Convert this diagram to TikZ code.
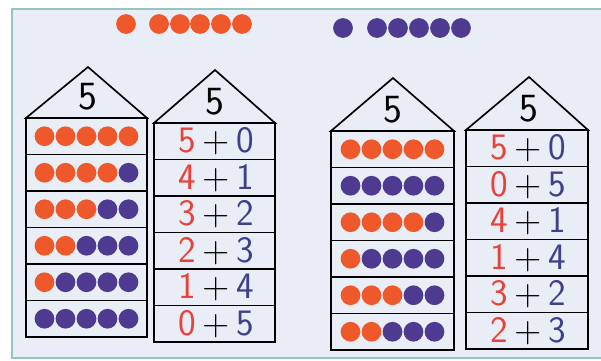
\documentclass[tikz,border=0pt]{standalone}
\usepackage{fontspec}
\usepackage{tikz}
\definecolor{dotorange}{RGB}{238,88,42}
\definecolor{dotpurple}{RGB}{78,58,145}
\definecolor{penred}{RGB}{232,66,58}
\definecolor{penblue}{RGB}{62,64,140}
\definecolor{sheet}{RGB}{233,237,245}
\definecolor{frameline}{RGB}{150,196,190}
\tikzset{
  houseline/.style={black,line width=1.25pt,line join=miter},
  rooftext/.style={font=\sffamily\fontsize{30}{30}\selectfont,inner sep=0pt},
  sumtext/.style={font=\sffamily\fontsize{28}{28}\selectfont,inner sep=0pt},
}
\newcommand{\sumrow}[2]{{\color{penred}#1}\hspace{5pt}{\color{black}+}\hspace{5pt}{\color{penblue}#2}}

\begin{document}
\begin{tikzpicture}[x=0.75pt,y=-0.75pt]
  \useasboundingbox (0,0) rectangle (601,361);
  % sheet and its frame
  \fill[white] (0,0) rectangle (601,361);
  \fill[sheet] (12,9) rectangle (612,358);
  \draw[frameline,line width=1pt] (12,9) rectangle (612,358);
  % counters at the top
  \foreach \x in {126,159,180,200,221,242}
    \fill[dotorange] (\x,24) circle (7.4pt);
  \foreach \x in {343,377,398,419,440,461}
    \fill[dotpurple] (\x,28) circle (7.4pt);
  % four houses: left, roof base, width, apex
  \foreach \L/\T/\W/\Ax/\Ay/\nm in {26/118/121/88/67/hA, 154/123/121/215/70/hB,
                                   331/131/123/393/78/hC, 466/130/122/529/77/hD} {
    \draw[houseline] (\L,\T) -- (\Ax,\Ay) -- (\L+\W,\T) -- cycle;
    \node[rooftext] (\nm-roof) at (\Ax,\T-21) {5};
    \foreach \k in {0,...,5}
      \draw[houseline] (\L,\T+\k*36.5) rectangle (\L+\W,\T+\k*36.5+36.5);
  }
  % house A: dots, orange count per row
  \foreach \k/\n in {0/5,1/4,2/3,3/2,4/1,5/0}
    \foreach \j in {1,...,5} {
      \ifnum\j>\n \def\dc{dotpurple}\else\def\dc{dotorange}\fi
      \fill[\dc] (86.5+\j*21-63,118+\k*36.5+18.25) circle (7.4pt);
    }
  % house C: dots
  \foreach \k/\n in {0/5,1/0,2/4,3/1,4/3,5/2}
    \foreach \j in {1,...,5} {
      \ifnum\j>\n \def\dc{dotpurple}\else\def\dc{dotorange}\fi
      \fill[\dc] (392.5+\j*21-63,131+\k*36.5+18.25) circle (7.4pt);
    }
  % house B: sums
  \foreach \k/\a/\b in {0/5/0,1/4/1,2/3/2,3/2/3,4/1/4,5/0/5}
    \node[sumtext] (hB-sum\k) at (216,123+\k*36.5+18.5) {\sumrow{\a}{\b}};
  % house D: sums
  \foreach \k/\a/\b in {0/5/0,1/0/5,2/4/1,3/1/4,4/3/2,5/2/3}
    \node[sumtext] (hD-sum\k) at (528,130+\k*36.5+18.5) {\sumrow{\a}{\b}};
\end{tikzpicture}
\end{document}
